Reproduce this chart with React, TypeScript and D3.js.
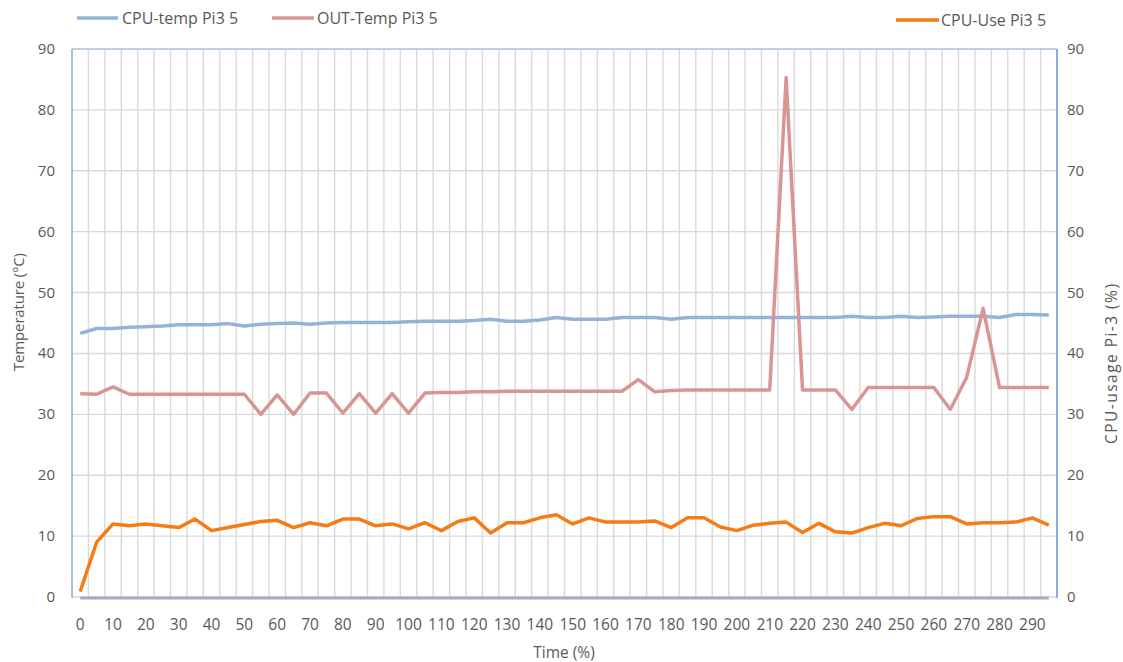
import React from 'react';
import * as d3 from 'd3';

// time categories (every 5 %)
const times = [
  0, 5, 10, 15, 20, 25, 30, 35, 40, 45, 50, 55, 60, 65, 70, 75, 80, 85, 90, 95,
  100, 105, 110, 115, 120, 125, 130, 135, 140, 145, 150, 155, 160, 165, 170, 175, 180, 185, 190, 195,
  200, 205, 210, 215, 220, 225, 230, 235, 240, 245, 250, 255, 260, 265, 270, 275, 280, 285, 290, 295,
];

const cpuTemp = [
  43.3, 44.1, 44.1, 44.3, 44.4, 44.5, 44.7, 44.7, 44.7, 44.9, 44.5, 44.8, 44.9, 45.0, 44.8, 45.0, 45.1, 45.1, 45.1, 45.1,
  45.2, 45.3, 45.3, 45.3, 45.4, 45.6, 45.3, 45.3, 45.5, 45.9, 45.6, 45.6, 45.6, 45.9, 45.9, 45.9, 45.6, 45.9, 45.9, 45.9,
  45.9, 45.9, 45.9, 45.9, 45.9, 45.9, 45.9, 46.1, 45.9, 45.9, 46.1, 45.9, 46.0, 46.1, 46.1, 46.1, 45.9, 46.4, 46.4, 46.3,
];

const outTemp = [
  33.4, 33.3, 34.5, 33.3, 33.3, 33.3, 33.3, 33.3, 33.3, 33.3, 33.3, 30.0, 33.2, 30.0, 33.5, 33.5, 30.2, 33.4, 30.2, 33.4,
  30.2, 33.5, 33.6, 33.6, 33.7, 33.7, 33.8, 33.8, 33.8, 33.8, 33.8, 33.8, 33.8, 33.8, 35.7, 33.7, 33.9, 34.0, 34.0, 34.0,
  34.0, 34.0, 34.0, 85.3, 34.0, 34.0, 34.0, 30.8, 34.4, 34.4, 34.4, 34.4, 34.4, 30.8, 36.1, 47.4, 34.4, 34.4, 34.4, 34.4,
];

const cpuUse = [
  0.9, 9.0, 12.0, 11.7, 12.0, 11.7, 11.4, 12.8, 10.9, 11.4, 11.9, 12.4, 12.6, 11.4, 12.2, 11.7, 12.8, 12.8, 11.7, 12.0,
  11.2, 12.2, 10.9, 12.4, 13.0, 10.5, 12.2, 12.2, 13.0, 13.5, 12.0, 13.0, 12.3, 12.3, 12.3, 12.5, 11.4, 13.0, 13.0, 11.5,
  10.9, 11.8, 12.1, 12.3, 10.6, 12.1, 10.7, 10.5, 11.4, 12.1, 11.7, 12.9, 13.2, 13.2, 12.0, 12.2, 12.2, 12.3, 13.0, 11.8,
];

const yTicks = [0, 10, 20, 30, 40, 50, 60, 70, 80, 90];

const W = 1123, H = 662;
const left = 72, right = 1057, top = 49, bottom = 597;
const font = '"Open Sans", sans-serif';
const textColor = '#595959';

export default function App() {
  const x = d3.scaleBand<string>()
    .domain(times.map(String))
    .range([left, right])
    .padding(0);
  const bw = x.bandwidth();
  const cx = (i: number) => (x(String(times[i])) as number) + bw / 2;

  const yL = d3.scaleLinear().domain([0, 90]).range([bottom, top]);
  const yR = d3.scaleLinear().domain([0, 90]).range([bottom, top]);

  const lineL = d3.line<number>().x((_, i) => cx(i)).y(d => yL(d));
  const lineR = d3.line<number>().x((_, i) => cx(i)).y(d => yR(d));

  const boundaries = times.map(t => x(String(t)) as number).concat([right]);

  return (
    <svg width={W} height={H} style={{ position: 'absolute', left: 0, top: 0, background: '#fff' }}
      fontFamily={font}>
      {/* legend */}
      <g fontSize={16} fill={textColor}>
        <line x1={77} x2={118} y1={18} y2={18} stroke="#95b3d7" strokeWidth={3.5} />
        <text x={122} y={23.5}>CPU-temp Pi3 5</text>
        <line x1={272} x2={314} y1={18} y2={18} stroke="#d99594" strokeWidth={3.5} />
        <text x={317} y={23.5}>OUT-Temp Pi3 5</text>
        <line x1={896} x2={939} y1={20} y2={20} stroke="#f57c14" strokeWidth={3.5} />
        <text x={941} y={25.5}>CPU-Use Pi3 5</text>
      </g>

      {/* gridlines */}
      <g stroke="#d9d9d9" strokeWidth={1.4}>
        {boundaries.map((bx, i) => (
          <line key={'v' + i} x1={bx} x2={bx} y1={top} y2={bottom} />
        ))}
        {yTicks.map(t => (
          <line key={'h' + t} x1={left} x2={right} y1={yL(t)} y2={yL(t)} />
        ))}
      </g>
      <line x1={left} x2={right} y1={top} y2={top} stroke="#b4c7e7" strokeWidth={1.3} />

      {/* axes lines */}
      <line x1={left} x2={left} y1={top} y2={bottom + 1} stroke="#8eb4e3" strokeWidth={1.5} />
      <line x1={right} x2={right} y1={top} y2={bottom + 1} stroke="#6f9bd6" strokeWidth={1.5} />
      <line x1={cx(0)} x2={cx(times.length - 1)} y1={yL(0) + 1} y2={yL(0) + 1} stroke="#b3a2c7" strokeWidth={3} />

      {/* series */}
      <path d={lineL(cpuTemp) || ''} fill="none" stroke="#95b3d7" strokeWidth={3.5} strokeLinejoin="round" />
      <path d={lineL(outTemp) || ''} fill="none" stroke="#d99594" strokeWidth={3.5} strokeLinejoin="round" />
      <path d={lineR(cpuUse) || ''} fill="none" stroke="#f57c14" strokeWidth={3.5} strokeLinejoin="round" />

      {/* left ticks */}
      <g fontSize={15} fill={textColor} textAnchor="end">
        {yTicks.map(t => (
          <text key={t} x={55} y={yL(t) + 5}>{t}</text>
        ))}
      </g>
      {/* right ticks */}
      <g fontSize={15} fill={textColor} textAnchor="start">
        {yTicks.map(t => (
          <text key={t} x={1067} y={yR(t) + 5}>{t}</text>
        ))}
      </g>
      {/* x ticks */}
      <g fontSize={15.5} fill={textColor} textAnchor="middle">
        {times.map((t, i) => (i % 2 === 0 ? (
          <text key={t} x={cx(i)} y={630}>{t}</text>
        ) : null))}
      </g>

      {/* titles */}
      <text x={564} y={658} fontSize={15.5} fill={textColor} textAnchor="middle">Time (%)</text>
      <text transform="translate(24,312) rotate(-90)" fontSize={15} fill={textColor} textAnchor="middle"
        textLength={118} lengthAdjust="spacing">Temperature (°C)</text>
      <text transform="translate(1117,364) rotate(-90)" fontSize={15.5} fill={textColor} textAnchor="middle"
        textLength={160} lengthAdjust="spacing">CPU-usage Pi-3 (%)</text>
    </svg>
  );
}
